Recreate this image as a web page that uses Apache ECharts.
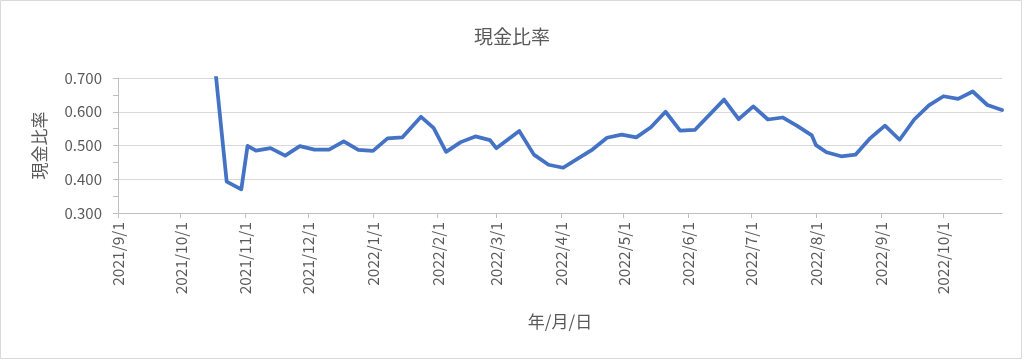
<!DOCTYPE html>
<html>
<head>
<meta charset="utf-8">
<script src="https://cdn.jsdelivr.net/npm/echarts@6/dist/echarts.min.js"></script>
<style>
html,body{margin:0;padding:0;background:#fff;}
#chart{width:1024px;height:361px;}
</style>
</head>
<body>
<div id="chart"></div>
<script>
// ---- data ----
const titleText = '現金比率';
const yName = '現金比率';
const xName = '年/月/日';
const axisStart = '2021/9/1';
const axisEnd = '2022/10/29';
const monthTicks = ['2021/9/1','2021/10/1','2021/11/1','2021/12/1','2022/1/1','2022/2/1','2022/3/1','2022/4/1','2022/5/1','2022/6/1','2022/7/1','2022/8/1','2022/9/1','2022/10/1'];
const dates = [
  '2021/10/16','2021/10/23','2021/10/30','2021/11/2','2021/11/6','2021/11/13','2021/11/20','2021/11/27',
  '2021/12/4','2021/12/11','2021/12/18','2021/12/25','2022/1/1','2022/1/8','2022/1/15','2022/1/24',
  '2022/1/30','2022/2/5','2022/2/12','2022/2/19','2022/2/26','2022/3/1','2022/3/12','2022/3/19',
  '2022/3/26','2022/4/2','2022/4/9','2022/4/16','2022/4/23','2022/4/30','2022/5/7','2022/5/14',
  '2022/5/21','2022/5/28','2022/6/4','2022/6/18','2022/6/25','2022/7/2','2022/7/9','2022/7/16',
  '2022/7/23','2022/7/30','2022/8/1','2022/8/6','2022/8/13','2022/8/20','2022/8/27','2022/9/3',
  '2022/9/10','2022/9/17','2022/9/24','2022/10/1','2022/10/8','2022/10/15','2022/10/22','2022/10/29'
];
const cashRatio = [
  0.82,0.393,0.370,0.499,0.485,0.492,0.470,0.498,
  0.488,0.488,0.512,0.487,0.484,0.521,0.524,0.585,
  0.552,0.481,0.510,0.527,0.516,0.492,0.543,0.473,
  0.443,0.434,0.461,0.488,0.523,0.532,0.524,0.554,
  0.600,0.544,0.546,0.636,0.578,0.616,0.577,0.583,
  0.558,0.530,0.501,0.480,0.468,0.473,0.522,0.559,
  0.517,0.577,0.619,0.646,0.638,0.660,0.620,0.605
];
const yMin = 0.3, yMax = 0.7, yStep = 0.1;

// ---- build daily category axis ----
function parseD(s){const p=s.split('/').map(Number);return Date.UTC(p[0],p[1]-1,p[2]);}
function fmt(t){const d=new Date(t);return d.getUTCFullYear()+'/'+(d.getUTCMonth()+1)+'/'+d.getUTCDate();}
const days = [];
for (let t = parseD(axisStart); t <= parseD(axisEnd); t += 86400000) days.push(fmt(t));
const tickSet = new Set(monthTicks);

const chart = echarts.init(document.getElementById('chart'));
const txt = '#595959';
const font = '"Noto Sans CJK JP", "Noto Sans", sans-serif';
chart.setOption({
  animation: false,
  backgroundColor: '#fff',
  textStyle: {fontFamily: font},
  title: {
    text: titleText, left: 'center', top: 22,
    textStyle: {color: txt, fontSize: 19, fontWeight: 'normal', fontFamily: font}
  },
  graphic: [{
    type: 'rect', shape: {x: 0.5, y: 0.5, width: 1021, height: 358},
    style: {fill: 'none', stroke: '#d9d9d9', lineWidth: 1}, silent: true
  }],
  grid: {left: 118, right: 22, top: 78, bottom: 148, containLabel: false},
  xAxis: {
    type: 'category', data: days, boundaryGap: false,
    name: xName, nameLocation: 'middle', nameGap: 100,
    nameTextStyle: {color: txt, fontSize: 17, fontFamily: font},
    axisLine: {show: true, lineStyle: {color: '#bfbfbf', width: 1}},
    axisTick: {show: true, length: 5, interval: (i, v) => tickSet.has(v), lineStyle: {color: '#bfbfbf'}},
    axisLabel: {
      interval: (i, v) => tickSet.has(v), rotate: 90, margin: 9,
      color: txt, fontSize: 15.5, fontFamily: font
    },
    splitLine: {show: false}
  },
  yAxis: {
    type: 'value', min: yMin, max: yMax, interval: yStep,
    name: yName, nameLocation: 'middle', nameGap: 70, nameRotate: 90,
    nameTextStyle: {color: txt, fontSize: 17, fontFamily: font},
    axisLine: {show: true, lineStyle: {color: '#bfbfbf', width: 1}},
    axisTick: {show: true, length: 5, lineStyle: {color: '#bfbfbf'}},
    minorTick: {show: true, splitNumber: 2, length: 5, lineStyle: {color: '#bfbfbf'}},
    axisLabel: {color: txt, fontSize: 15, margin: 16, fontFamily: font, formatter: v => v.toFixed(3)},
    splitLine: {show: true, lineStyle: {color: '#d9d9d9', width: 1}}
  },
  series: [{
    type: 'line', name: yName,
    data: dates.map((d, i) => [d, cashRatio[i]]),
    showSymbol: false, symbol: 'none', clip: true,
    lineStyle: {color: '#4472C4', width: 3.75, join: 'round', cap: 'round'},
    itemStyle: {color: '#4472C4'}
  }]
});
</script>
</body>
</html>
